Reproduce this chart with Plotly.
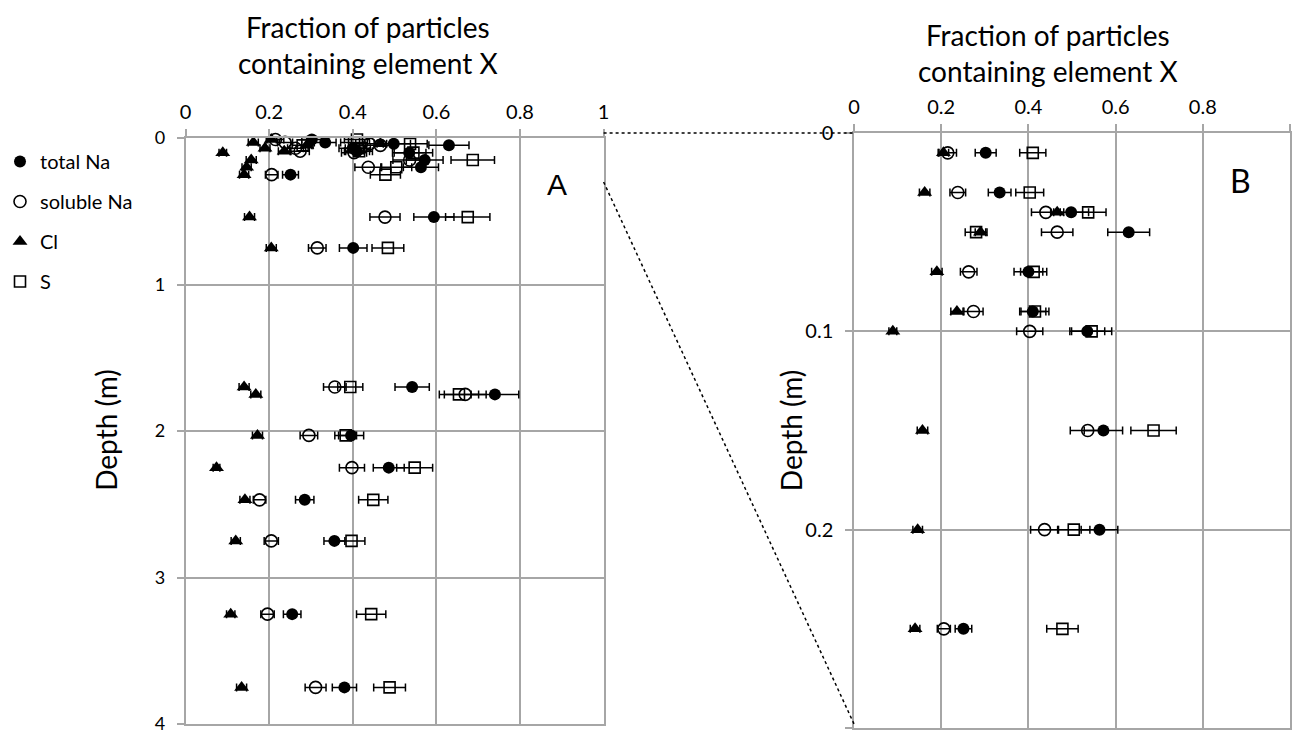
import plotly.graph_objects as go

# ---------------- data ----------------
depth = [0.01, 0.03, 0.04, 0.05, 0.07, 0.09, 0.10, 0.15, 0.20, 0.25,
         0.54, 0.75, 1.70, 1.75, 2.03, 2.25, 2.47, 2.75, 3.25, 3.75]

total_na = [0.302, 0.334, 0.498, 0.630, 0.400, 0.410, 0.535, 0.572, 0.563, 0.251,
            0.594, 0.401, 0.542, 0.740, 0.396, 0.486, 0.285, 0.356, 0.255, 0.380]
total_na_err = [0.024, 0.026, 0.040, 0.048, 0.033, 0.030, 0.040, 0.044, 0.042, 0.019,
                0.048, 0.033, 0.041, 0.057, 0.030, 0.037, 0.022, 0.025, 0.021, 0.029]

soluble_na = [0.215, 0.238, 0.440, 0.466, 0.263, 0.274, 0.403, 0.536, 0.437, 0.206,
              0.477, 0.315, 0.357, 0.669, 0.295, 0.398, 0.177, 0.205, 0.196, 0.311]
soluble_na_err = [0.020, 0.018, 0.033, 0.036, 0.019, 0.022, 0.030, 0.040, 0.032, 0.015,
                  0.036, 0.021, 0.027, 0.050, 0.021, 0.030, 0.015, 0.017, 0.016, 0.025]

cl = [0.205, 0.162, 0.466, 0.290, 0.190, 0.236, 0.089, 0.157, 0.146, 0.140,
      0.153, 0.205, 0.140, 0.168, 0.172, 0.074, 0.142, 0.120, 0.108, 0.134]
cl_err = [0.012, 0.012, 0.015, 0.012, 0.012, 0.014, 0.009, 0.012, 0.011, 0.011,
          0.012, 0.012, 0.012, 0.012, 0.012, 0.008, 0.012, 0.011, 0.010, 0.012]

s = [0.410, 0.403, 0.537, 0.280, 0.412, 0.415, 0.545, 0.687, 0.504, 0.478,
     0.675, 0.484, 0.394, 0.654, 0.383, 0.548, 0.449, 0.397, 0.444, 0.488]
s_err = [0.030, 0.032, 0.041, 0.025, 0.030, 0.032, 0.046, 0.052, 0.037, 0.036,
         0.053, 0.038, 0.030, 0.047, 0.026, 0.043, 0.035, 0.032, 0.035, 0.038]

series_names = ["total Na", "soluble Na", "Cl", "S"]
x_ticks = [0, 0.2, 0.4, 0.6, 0.8, 1]
zoom_max_depth = 0.3

# ---------------- styling ----------------
W, H = 1295, 737
FONT = "Lato, 'Open Sans', sans-serif"
GRID = "#a6a6a6"

def px_x(p):
    return p / W

def px_y(p):
    return 1 - p / H

A_dom_x = [px_x(183), px_x(602)]
A_dom_y = [px_y(724), px_y(138)]
B_dom_x = [px_x(853), px_x(1290)]
B_dom_y = [px_y(728), px_y(133)]

styles = [
    dict(symbol="circle", size=12, color="black", line=dict(width=0)),
    dict(symbol="circle-open", size=12, color="black", line=dict(width=1.6)),
    dict(symbol="triangle-up", size=13, color="black", line=dict(width=0)),
    dict(symbol="square-open", size=11, color="black", line=dict(width=1.6)),
]
values = [(total_na, total_na_err), (soluble_na, soluble_na_err), (cl, cl_err), (s, s_err)]

fig = go.Figure()
for name, (vals, errs), st in zip(series_names, values, styles):
    fig.add_trace(go.Scatter(
        x=vals, y=depth, mode="markers", name=name, legendgroup=name,
        marker=st, error_x=dict(type="data", array=errs, color="black", thickness=1.5, width=4),
        xaxis="x", yaxis="y", showlegend=True, cliponaxis=False,
    ))
for name, (vals, errs), st in zip(series_names, values, styles):
    idx = [i for i, d in enumerate(depth) if d <= zoom_max_depth]
    fig.add_trace(go.Scatter(
        x=[vals[i] for i in idx], y=[depth[i] for i in idx], mode="markers", name=name,
        legendgroup=name, marker=st,
        error_x=dict(type="data", array=[errs[i] for i in idx], color="black", thickness=1.5, width=4),
        xaxis="x2", yaxis="y2", showlegend=False, cliponaxis=False,
    ))

xaxis_common = dict(
    range=[0, 1], tickvals=x_ticks, side="top", showgrid=True, gridcolor=GRID, gridwidth=1.5,
    showline=True, linecolor=GRID, linewidth=1.5, mirror=True, zeroline=False,
    ticks="outside", ticklen=7, tickcolor=GRID, tickwidth=1.5, ticklabelstandoff=2,
    tickfont=dict(family=FONT, size=20, color="black"), automargin=False,
)
yaxis_common = dict(
    showgrid=True, gridcolor=GRID, gridwidth=1.5, showline=True, linecolor=GRID, linewidth=1.5,
    mirror=True, zeroline=False, ticks="outside", ticklen=7, tickcolor=GRID, tickwidth=1.5,
    ticklabelstandoff=8, automargin=False,
)

fig.update_layout(
    width=W, height=H, margin=dict(l=0, r=0, t=0, b=0),
    paper_bgcolor="white", plot_bgcolor="white",
    xaxis=dict(domain=A_dom_x, anchor="y", **xaxis_common),
    yaxis=dict(domain=A_dom_y, anchor="x", range=[4, 0], tickvals=[0, 1, 2, 3, 4],
               tickfont=dict(family=FONT, size=18, color="black"), **yaxis_common),
    xaxis2=dict(domain=B_dom_x, anchor="y2", **xaxis_common),
    yaxis2=dict(domain=B_dom_y, anchor="x2", range=[zoom_max_depth, 0],
                tickvals=[0, 0.1, 0.2, 0.3], ticktext=["0", "0.1", "0.2", "0.3"],
                tickfont=dict(family=FONT, size=20, color="black"), **yaxis_common),
    showlegend=True,
    legend=dict(x=-3 / W, y=px_y(142), xanchor="left", yanchor="top", bgcolor="rgba(0,0,0,0)",
                font=dict(family=FONT, size=20, color="black"), tracegroupgap=11,
                itemwidth=30),
)

ann = []
title_lines = "Fraction of particles<br>containing element X"
common = dict(xref="paper", yref="paper", showarrow=False, xanchor="center", yanchor="middle")
ann.append(dict(text=title_lines, x=px_x(366), y=px_y(45), align="center",
                font=dict(family=FONT, size=28, color="black"), **common))
ann.append(dict(text=title_lines, x=px_x(1047), y=px_y(53), align="center",
                font=dict(family=FONT, size=28, color="black"), **common))
ann.append(dict(text="Depth (m)", x=px_x(103), y=px_y(430), textangle=-90,
                font=dict(family=FONT, size=28, color="black"), **common))
ann.append(dict(text="Depth (m)", x=px_x(790), y=px_y(430), textangle=-90,
                font=dict(family=FONT, size=28, color="black"), **common))
ann.append(dict(text="A", x=0.888, y=0.32, xref="x", yref="y", showarrow=False,
                xanchor="center", yanchor="middle",
                font=dict(family="Liberation Sans, Arial, sans-serif", size=30, color="black")))
ann.append(dict(text="B", x=0.886, y=0.0237, xref="x2", yref="y2", showarrow=False,
                xanchor="center", yanchor="middle",
                font=dict(family=FONT, size=32, color="black")))
fig.update_layout(annotations=ann)

# dotted connector lines between panels
A_top = A_dom_y[1]
A_h = A_dom_y[1] - A_dom_y[0]
A_depth03 = A_top - zoom_max_depth / 4 * A_h
fig.add_shape(type="line", xref="paper", yref="paper", x0=A_dom_x[1], x1=B_dom_x[0],
              y0=B_dom_y[1], y1=B_dom_y[1], line=dict(color="black", width=1.5, dash="dot"))
fig.add_shape(type="line", xref="paper", yref="paper", x0=A_dom_x[1], x1=B_dom_x[0],
              y0=A_depth03, y1=B_dom_y[0] + 4 / H, line=dict(color="black", width=1.5, dash="dot"))

fig.write_html("out.html", config={"displayModeBar": False},
               post_script="document.body.style.margin='0px';")
